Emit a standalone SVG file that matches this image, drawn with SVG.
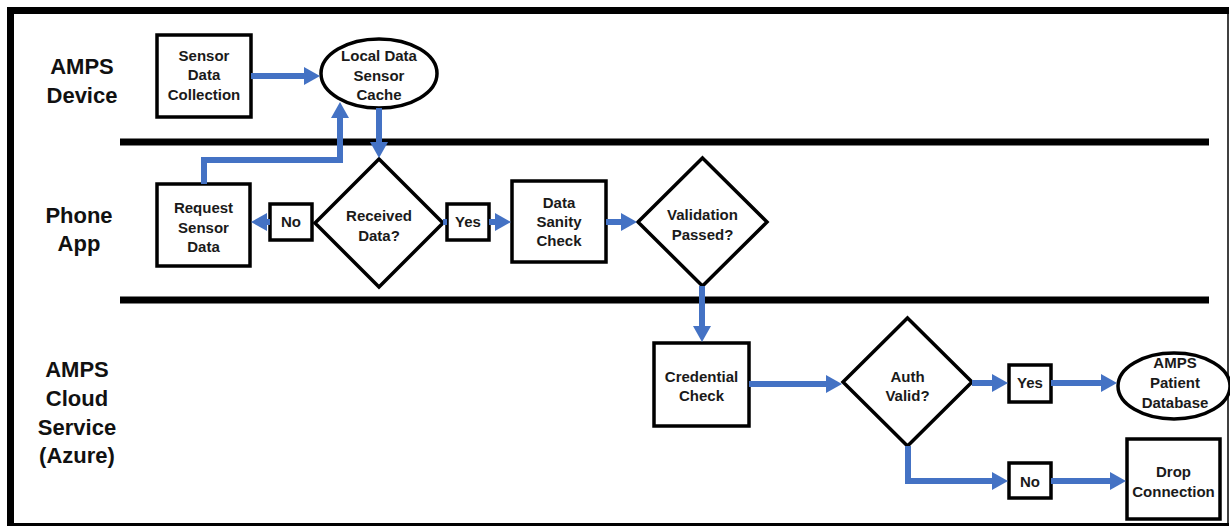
<svg xmlns="http://www.w3.org/2000/svg" width="1230" height="527" viewBox="0 0 1230 527">
  <style>
    .lane-label { font-family: "Liberation Sans", Arial, sans-serif; font-weight: bold; font-size: 22px; fill: #111; text-anchor: middle; }
    .node-text { font-family: "Liberation Sans", Arial, sans-serif; font-weight: bold; font-size: 15px; fill: #1a1a1a; text-anchor: middle; }
    .box { fill: #fff; stroke: #000; stroke-width: 3.5; }
    .decision { fill: #fff; stroke: #000; stroke-width: 3.5; stroke-linejoin: miter; }
    .store { fill: #fff; stroke: #000; stroke-width: 3.5; }
    .tag { fill: #fff; stroke: #000; stroke-width: 3.5; }
    .flow { fill: none; stroke: #4472C4; stroke-width: 6; stroke-linejoin: miter; marker-end: url(#arrow); }
    .flow-plain { fill: none; stroke: #4472C4; stroke-width: 6; }
    .divider { stroke: #000; stroke-width: 7; }
  </style>
  <defs>
    <marker id="arrow" markerUnits="userSpaceOnUse" viewBox="0 0 16 18" markerWidth="16" markerHeight="18" refX="1" refY="9" orient="auto">
      <path d="M0,0 L16,9 L0,18 Z" fill="#4472C4"/>
    </marker>
  </defs>

  <!-- background and frame -->
  <rect x="0" y="0" width="1230" height="527" fill="#fff"/>
  <g id="frame">
    <line x1="7" y1="10.5" x2="1229" y2="10.5" stroke="#000" stroke-width="7"/>
    <line x1="10.5" y1="7" x2="10.5" y2="525" stroke="#000" stroke-width="7"/>
    <line x1="1228" y1="10" x2="1228" y2="525" stroke="#000" stroke-width="1.5"/>
    <line x1="7" y1="524.5" x2="1229" y2="524.5" stroke="#000" stroke-width="3"/>
  </g>

  <!-- swimlane dividers -->
  <g id="lanes">
    <line class="divider" x1="120" y1="142" x2="1209" y2="142"/>
    <line class="divider" x1="120" y1="300" x2="1209" y2="300"/>
  </g>

  <!-- lane titles -->
  <g id="lane-device">
    <text class="lane-label" x="82" y="74">AMPS</text>
    <text class="lane-label" x="82" y="103">Device</text>
  </g>
  <g id="lane-phone">
    <text class="lane-label" x="79" y="223">Phone</text>
    <text class="lane-label" x="79" y="251">App</text>
  </g>
  <g id="lane-cloud">
    <text class="lane-label" x="77" y="377">AMPS</text>
    <text class="lane-label" x="77" y="406">Cloud</text>
    <text class="lane-label" x="77" y="435">Service</text>
    <text class="lane-label" x="77" y="463">(Azure)</text>
  </g>

  <!-- nodes -->
  <g id="sensor-data-collection">
    <rect class="box" x="157" y="35" width="94" height="82"/>
    <text class="node-text" x="204" y="61">Sensor</text>
    <text class="node-text" x="204" y="80">Data</text>
    <text class="node-text" x="204" y="100">Collection</text>
  </g>

  <g id="local-data-sensor-cache">
    <ellipse class="store" cx="379" cy="73.5" rx="58" ry="34.5"/>
    <text class="node-text" x="379" y="61">Local Data</text>
    <text class="node-text" x="379" y="81">Sensor</text>
    <text class="node-text" x="379" y="100">Cache</text>
  </g>

  <g id="request-sensor-data">
    <rect class="box" x="157" y="184" width="93" height="82"/>
    <text class="node-text" x="203.5" y="213">Request</text>
    <text class="node-text" x="203.5" y="233">Sensor</text>
    <text class="node-text" x="203.5" y="252">Data</text>
  </g>

  <g id="received-data">
    <polygon class="decision" points="379,159 443,223 379,287 315,223"/>
    <text class="node-text" x="379" y="221">Received</text>
    <text class="node-text" x="379" y="241">Data?</text>
  </g>

  <g id="received-no">
    <rect class="tag" x="270" y="204" width="42" height="36"/>
    <text class="node-text" x="291" y="227">No</text>
  </g>

  <g id="received-yes">
    <rect class="tag" x="447" y="204" width="42" height="36"/>
    <text class="node-text" x="468" y="227">Yes</text>
  </g>

  <g id="data-sanity-check">
    <rect class="box" x="512" y="181" width="94" height="81"/>
    <text class="node-text" x="559" y="208">Data</text>
    <text class="node-text" x="559" y="227">Sanity</text>
    <text class="node-text" x="559" y="246">Check</text>
  </g>

  <g id="validation-passed">
    <polygon class="decision" points="702.5,158 767,222 702.5,286 638,222"/>
    <text class="node-text" x="702.5" y="220">Validation</text>
    <text class="node-text" x="702.5" y="240">Passed?</text>
  </g>

  <g id="credential-check">
    <rect class="box" x="654" y="343" width="95" height="83"/>
    <text class="node-text" x="701.5" y="382">Credential</text>
    <text class="node-text" x="701.5" y="401">Check</text>
  </g>

  <g id="auth-valid">
    <polygon class="decision" points="907.5,318 972,382 907.5,446 843,382"/>
    <text class="node-text" x="907.5" y="382">Auth</text>
    <text class="node-text" x="907.5" y="401">Valid?</text>
  </g>

  <g id="auth-yes">
    <rect class="tag" x="1009" y="365" width="42" height="37"/>
    <text class="node-text" x="1030" y="388">Yes</text>
  </g>

  <g id="patient-database">
    <ellipse class="store" cx="1174" cy="386" rx="56" ry="33"/>
    <text class="node-text" x="1175" y="368">AMPS</text>
    <text class="node-text" x="1175" y="388">Patient</text>
    <text class="node-text" x="1175" y="408">Database</text>
  </g>

  <g id="auth-no">
    <rect class="tag" x="1009" y="463" width="42" height="35"/>
    <text class="node-text" x="1030" y="487">No</text>
  </g>

  <g id="drop-connection">
    <rect class="box" x="1127" y="439" width="93" height="80"/>
    <text class="node-text" x="1173.5" y="477">Drop</text>
    <text class="node-text" x="1173.5" y="497">Connection</text>
  </g>

  <!-- connectors -->
  <g id="connectors">
    <path class="flow" d="M251,76 H305"/>
    <path class="flow" d="M204,184 V160 H340 V117"/>
    <path class="flow" d="M379,108 V143"/>
    <path class="flow" d="M270,222 H266"/>
    <path class="flow-plain" d="M443,222 H447"/>
    <path class="flow" d="M489,222 H496"/>
    <path class="flow" d="M606,222 H622"/>
    <path class="flow" d="M702,286 V327"/>
    <path class="flow" d="M749,384 H827"/>
    <path class="flow" d="M972,383 H993"/>
    <path class="flow" d="M1051,383 H1102"/>
    <path class="flow" d="M908,446 V481 H993"/>
    <path class="flow" d="M1051,481 H1111"/>
  </g>
</svg>
